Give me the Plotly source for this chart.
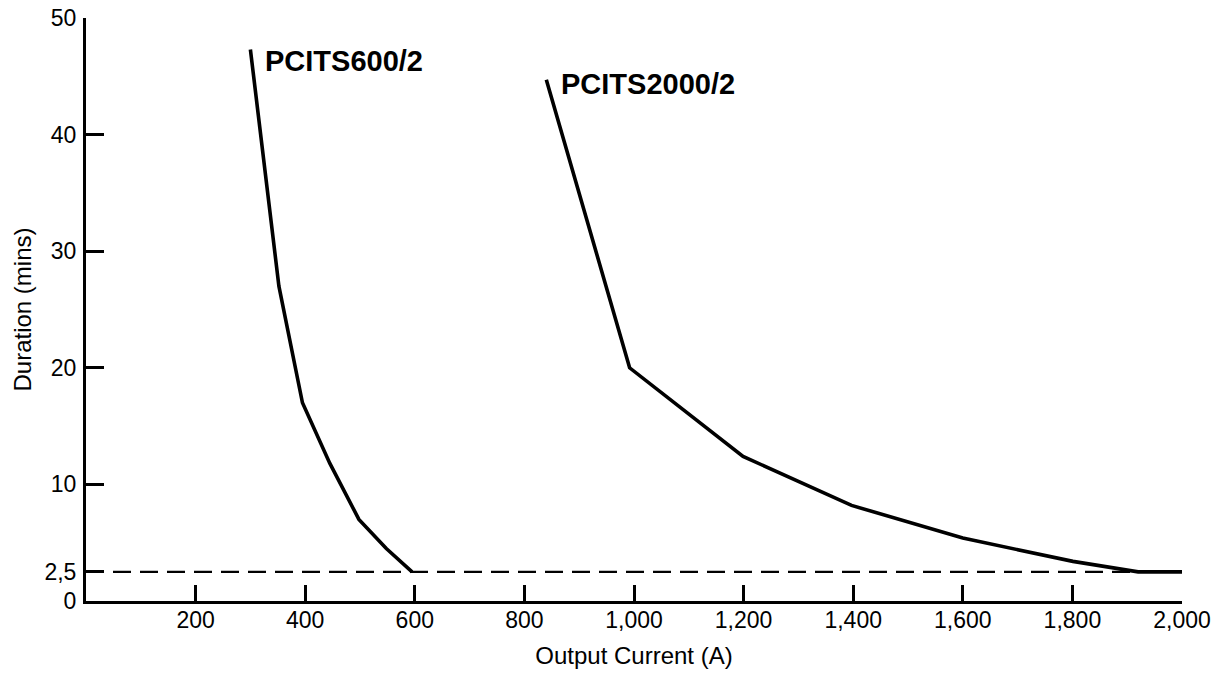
import plotly.graph_objects as go

# Data
pcits600_x = [300, 352, 395, 445, 498, 548, 595]
pcits600_y = [47.3, 27.0, 17.0, 11.8, 7.0, 4.5, 2.5]

pcits2000_x = [840, 992, 1199, 1397, 1600, 1801, 1920, 2000]
pcits2000_y = [44.7, 20.0, 12.4, 8.2, 5.4, 3.4, 2.5, 2.5]

limit_x = [0, 2000]
limit_y = [2.5, 2.5]

x_ticks = [200, 400, 600, 800, 1000, 1200, 1400, 1600, 1800, 2000]
x_ticktext = ["200", "400", "600", "800", "1,000", "1,200", "1,400", "1,600", "1,800", "2,000"]
y_ticks = [0, 2.5, 10, 20, 30, 40, 50]
y_ticktext = ["0", "2,5", "10", "20", "30", "40", "50"]

labels = [
    dict(text="PCITS600/2", x=323, y=46.3),
    dict(text="PCITS2000/2", x=863, y=44.3),
]

FONT = "Liberation Sans, Arial, sans-serif"

fig = go.Figure()
fig.add_trace(go.Scatter(x=limit_x, y=limit_y, mode="lines",
                         line=dict(color="black", width=2.3, dash="18px,9px"),
                         showlegend=False, hoverinfo="skip"))
fig.add_trace(go.Scatter(x=pcits600_x, y=pcits600_y, mode="lines",
                         line=dict(color="black", width=3.6),
                         showlegend=False))
fig.add_trace(go.Scatter(x=pcits2000_x, y=pcits2000_y, mode="lines",
                         line=dict(color="black", width=3.6),
                         showlegend=False))

for lb in labels:
    fig.add_annotation(x=lb["x"], y=lb["y"], xref="x", yref="y",
                       text="<b>" + lb["text"] + "</b>", showarrow=False,
                       xanchor="left", yanchor="middle",
                       font=dict(family=FONT, size=29, color="black"))

fig.update_layout(
    width=1224, height=674,
    margin=dict(l=86, r=42, t=18, b=73),
    paper_bgcolor="white", plot_bgcolor="white",
    font=dict(family=FONT, color="black"),
    showlegend=False,
)
fig.update_xaxes(
    range=[0, 2000], showgrid=False, zeroline=False, automargin=False,
    showline=True, linecolor="black", linewidth=3,
    ticks="inside", ticklen=16, tickwidth=2.6, tickcolor="black",
    tickvals=x_ticks, ticktext=x_ticktext, ticklabelstandoff=-4,
    tickfont=dict(size=23, family=FONT, color="black"),
    title=dict(text="Output Current (A)", font=dict(size=24, family=FONT, color="black"), standoff=16),
)
fig.update_yaxes(
    range=[0, 50], showgrid=False, zeroline=False, automargin=False,
    showline=True, linecolor="black", linewidth=3,
    ticks="inside", ticklen=18, tickwidth=2.6, tickcolor="black",
    tickvals=y_ticks, ticktext=y_ticktext, ticklabelstandoff=2,
    tickfont=dict(size=23, family=FONT, color="black"),
    title=dict(text="Duration (mins)", font=dict(size=24, family=FONT, color="black"), standoff=7),
)

fig.write_html("out.html", config={"displayModeBar": False},
               post_script="document.body.style.margin='0';")
